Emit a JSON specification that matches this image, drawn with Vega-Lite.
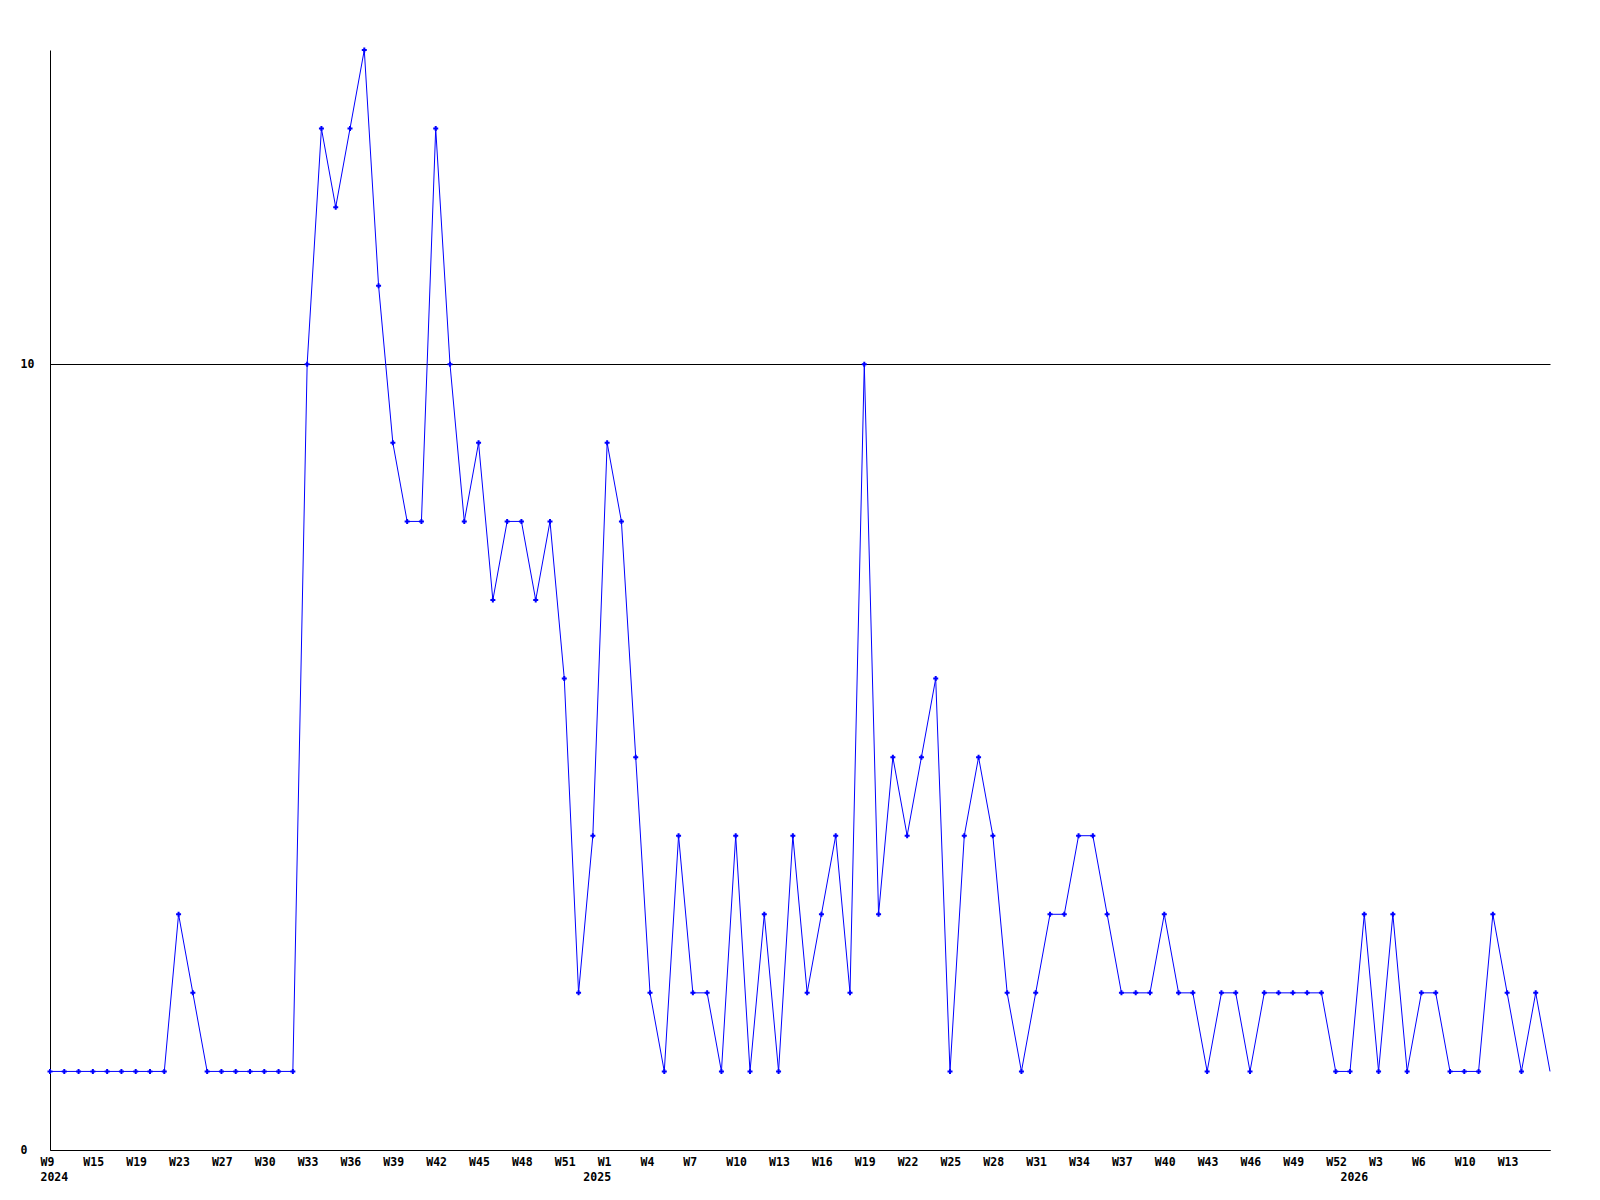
{
  "$schema": "https://vega.github.io/schema/vega-lite/v6.json",
  "width": 1500,
  "height": 1100,
  "autosize": {"type": "none"},
  "padding": {"left": 50, "top": 50, "right": 50, "bottom": 50},
  "background": "white",
  "config": {"view": {"stroke": null}},
  "data": {"values": [
    {"week": "2024-W09", "count": 1},
    {"week": "2024-W11", "count": 1},
    {"week": "2024-W13", "count": 1},
    {"week": "2024-W15", "count": 1},
    {"week": "2024-W16", "count": 1},
    {"week": "2024-W17", "count": 1},
    {"week": "2024-W19", "count": 1},
    {"week": "2024-W20", "count": 1},
    {"week": "2024-W21", "count": 1},
    {"week": "2024-W23", "count": 3},
    {"week": "2024-W24", "count": 2},
    {"week": "2024-W25", "count": 1},
    {"week": "2024-W27", "count": 1},
    {"week": "2024-W28", "count": 1},
    {"week": "2024-W29", "count": 1},
    {"week": "2024-W30", "count": 1},
    {"week": "2024-W31", "count": 1},
    {"week": "2024-W32", "count": 1},
    {"week": "2024-W33", "count": 10},
    {"week": "2024-W34", "count": 13},
    {"week": "2024-W35", "count": 12},
    {"week": "2024-W36", "count": 13},
    {"week": "2024-W37", "count": 14},
    {"week": "2024-W38", "count": 11},
    {"week": "2024-W39", "count": 9},
    {"week": "2024-W40", "count": 8},
    {"week": "2024-W41", "count": 8},
    {"week": "2024-W42", "count": 13},
    {"week": "2024-W43", "count": 10},
    {"week": "2024-W44", "count": 8},
    {"week": "2024-W45", "count": 9},
    {"week": "2024-W46", "count": 7},
    {"week": "2024-W47", "count": 8},
    {"week": "2024-W48", "count": 8},
    {"week": "2024-W49", "count": 7},
    {"week": "2024-W50", "count": 8},
    {"week": "2024-W51", "count": 6},
    {"week": "2024-W52", "count": 2},
    {"week": "2025-W00", "count": 4},
    {"week": "2025-W01", "count": 9},
    {"week": "2025-W02", "count": 8},
    {"week": "2025-W03", "count": 5},
    {"week": "2025-W04", "count": 2},
    {"week": "2025-W05", "count": 1},
    {"week": "2025-W06", "count": 4},
    {"week": "2025-W07", "count": 2},
    {"week": "2025-W08", "count": 2},
    {"week": "2025-W09", "count": 1},
    {"week": "2025-W10", "count": 4},
    {"week": "2025-W11", "count": 1},
    {"week": "2025-W12", "count": 3},
    {"week": "2025-W13", "count": 1},
    {"week": "2025-W14", "count": 4},
    {"week": "2025-W15", "count": 2},
    {"week": "2025-W16", "count": 3},
    {"week": "2025-W17", "count": 4},
    {"week": "2025-W18", "count": 2},
    {"week": "2025-W19", "count": 10},
    {"week": "2025-W20", "count": 3},
    {"week": "2025-W21", "count": 5},
    {"week": "2025-W22", "count": 4},
    {"week": "2025-W23", "count": 5},
    {"week": "2025-W24", "count": 6},
    {"week": "2025-W25", "count": 1},
    {"week": "2025-W26", "count": 4},
    {"week": "2025-W27", "count": 5},
    {"week": "2025-W28", "count": 4},
    {"week": "2025-W29", "count": 2},
    {"week": "2025-W30", "count": 1},
    {"week": "2025-W31", "count": 2},
    {"week": "2025-W32", "count": 3},
    {"week": "2025-W33", "count": 3},
    {"week": "2025-W34", "count": 4},
    {"week": "2025-W35", "count": 4},
    {"week": "2025-W36", "count": 3},
    {"week": "2025-W37", "count": 2},
    {"week": "2025-W38", "count": 2},
    {"week": "2025-W39", "count": 2},
    {"week": "2025-W40", "count": 3},
    {"week": "2025-W41", "count": 2},
    {"week": "2025-W42", "count": 2},
    {"week": "2025-W43", "count": 1},
    {"week": "2025-W44", "count": 2},
    {"week": "2025-W45", "count": 2},
    {"week": "2025-W46", "count": 1},
    {"week": "2025-W47", "count": 2},
    {"week": "2025-W48", "count": 2},
    {"week": "2025-W49", "count": 2},
    {"week": "2025-W50", "count": 2},
    {"week": "2025-W51", "count": 2},
    {"week": "2025-W52", "count": 1},
    {"week": "2026-W01", "count": 1},
    {"week": "2026-W02", "count": 3},
    {"week": "2026-W03", "count": 1},
    {"week": "2026-W04", "count": 3},
    {"week": "2026-W05", "count": 1},
    {"week": "2026-W06", "count": 2},
    {"week": "2026-W07", "count": 2},
    {"week": "2026-W08", "count": 1},
    {"week": "2026-W10", "count": 1},
    {"week": "2026-W11", "count": 1},
    {"week": "2026-W12", "count": 3},
    {"week": "2026-W13", "count": 2},
    {"week": "2026-W14", "count": 1},
    {"week": "2026-W15", "count": 2},
    {"week": "2026-W16", "count": 1, "partial": true}
  ]},
  "encoding": {
    "x": {
      "field": "week",
      "type": "ordinal",
      "sort": null,
      "scale": {"type": "point", "padding": 0},
      "axis": {
        "title": null,
        "orient": "bottom",
        "values": ["2024-W09","2024-W15","2024-W19","2024-W23","2024-W27","2024-W30","2024-W33","2024-W36","2024-W39","2024-W42","2024-W45","2024-W48","2024-W51","2025-W00","2025-W01","2025-W04","2025-W07","2025-W10","2025-W13","2025-W16","2025-W19","2025-W22","2025-W25","2025-W28","2025-W31","2025-W34","2025-W37","2025-W40","2025-W43","2025-W46","2025-W49","2025-W52","2026-W01","2026-W03","2026-W06","2026-W10","2026-W13"],
        "labelExpr": "datum.value == '2024-W09' ? ['W9', '2024'] : datum.value == '2025-W00' ? ['', '2025'] : datum.value == '2026-W01' ? ['', '2026'] : 'W' + toNumber(substring(datum.value, 6))",
        "labelAngle": 0,
        "labelAlign": "left",
        "labelBaseline": "top",
        "labelOffset": -10,
        "labelPadding": 6,
        "labelLineHeight": 15,
        "labelFont": "DejaVu Sans Mono",
        "labelFontWeight": "bold",
        "labelFontSize": 11.5,
        "labelColor": "black",
        "labelOverlap": false,
        "labelBound": false,
        "labelFlush": false,
        "ticks": false,
        "tickSize": 0,
        "grid": false,
        "domainColor": "black",
        "domainWidth": 1
      }
    },
    "y": {
      "field": "count",
      "type": "quantitative",
      "scale": {"domain": [0, 14], "nice": false, "zero": true},
      "axis": {
        "title": null,
        "values": [0, 10],
        "labelAlign": "left",
        "labelBaseline": "middle",
        "labelPadding": 30,
        "labelFont": "DejaVu Sans Mono",
        "labelFontWeight": "bold",
        "labelFontSize": 11.5,
        "labelColor": "black",
        "labelFlush": false,
        "ticks": false,
        "tickSize": 0,
        "grid": true,
        "gridColor": "black",
        "gridOpacity": 1,
        "gridWidth": 1,
        "domainColor": "black",
        "domainWidth": 1
      }
    }
  },
  "layer": [
    {"mark": {"type": "line", "color": "#0000ff", "strokeWidth": 1}},
    {
      "transform": [{"filter": "datum.partial !== true"}],
      "mark": {"type": "point", "shape": "cross", "filled": true, "size": 25, "color": "#0000ff", "opacity": 1}
    }
  ]
}
